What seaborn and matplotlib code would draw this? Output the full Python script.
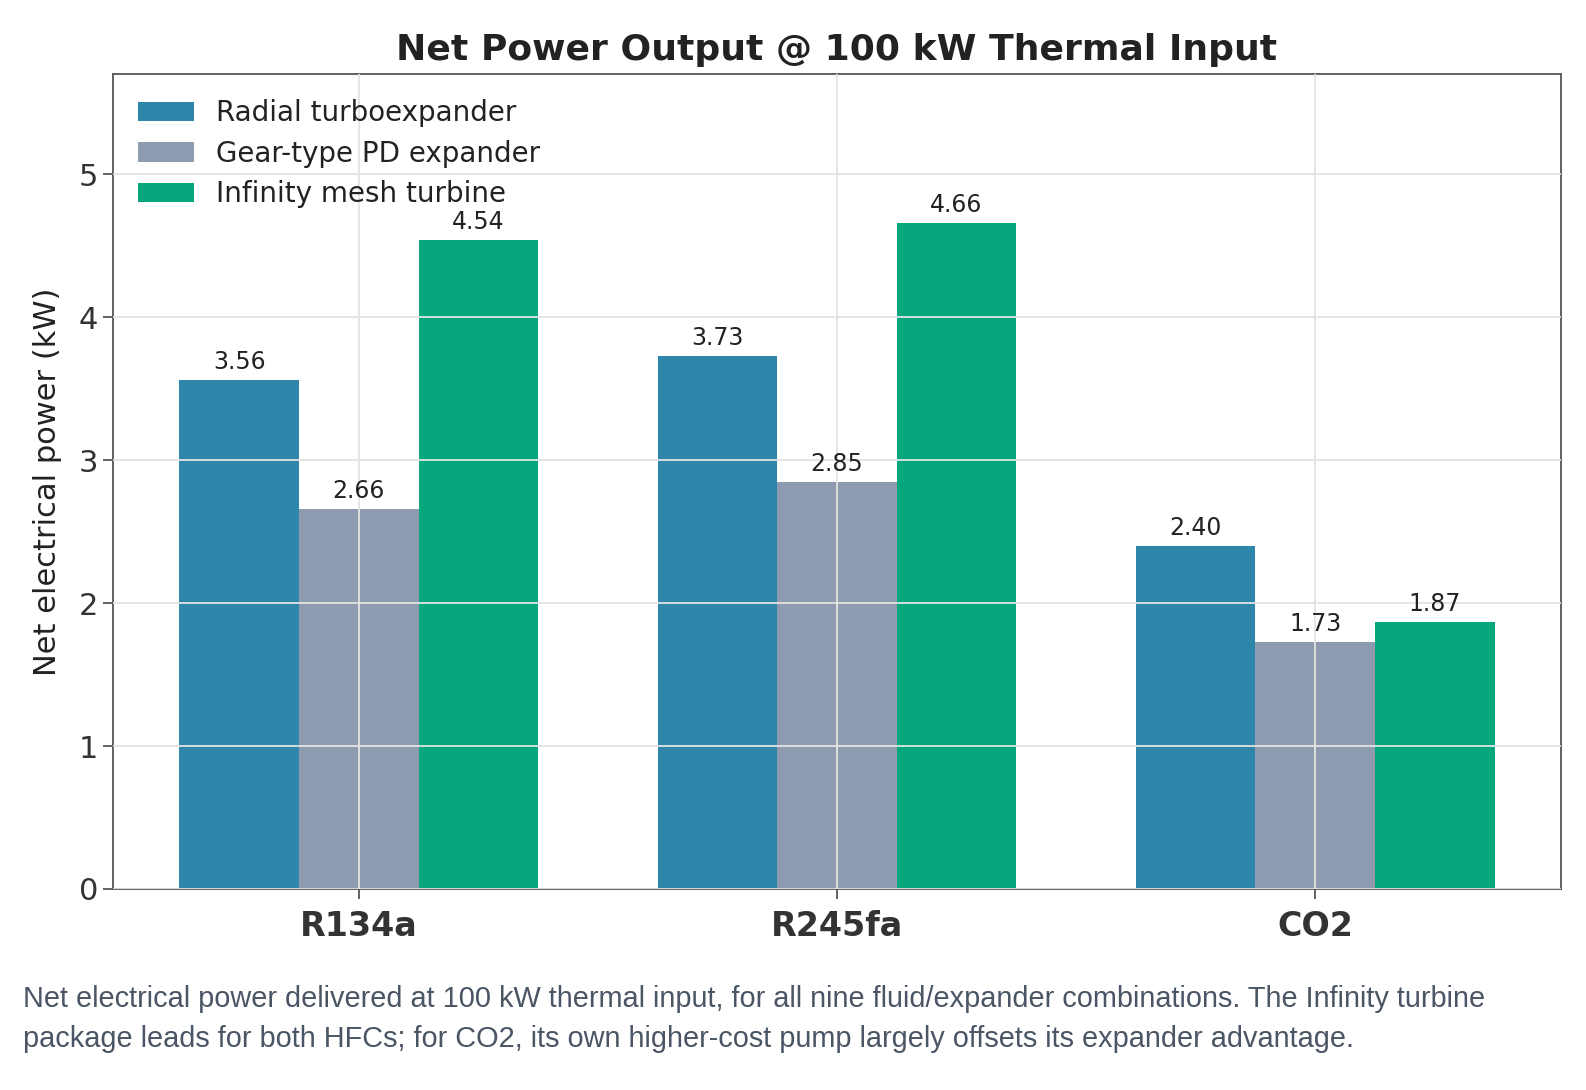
import pandas as pd
import matplotlib
matplotlib.use("Agg")
import matplotlib.pyplot as plt
import seaborn as sns

fluids = ["R134a", "R245fa", "CO2"]
expanders = ["Radial turboexpander", "Gear-type PD expander", "Infinity mesh turbine"]
radial = [3.56, 3.73, 2.40]
gear = [2.66, 2.85, 1.73]
infinity = [4.54, 4.66, 1.87]
colors = ["#2E86AB", "#8E9AAF", "#06A77D"]

caption = ("Net electrical power delivered at 100 kW thermal input, for all nine fluid/expander combinations. The Infinity turbine\n"
           "package leads for both HFCs; for CO2, its own higher-cost pump largely offsets its expander advantage.")

rows = []
for name, vals in zip(expanders, [radial, gear, infinity]):
    for f, v in zip(fluids, vals):
        rows.append({"fluid": f, "expander": name, "power": v})
df = pd.DataFrame(rows)

sns.set_style("white")
plt.rcParams["font.family"] = ["DejaVu Sans"]

fig = plt.figure(figsize=(15.86, 10.9), dpi=100)
ax = fig.add_axes([113 / 1586, 1 - 889 / 1090, (1561 - 113) / 1586, (889 - 74) / 1090])

sns.barplot(data=df, x="fluid", y="power", hue="expander", palette=colors,
            width=0.75, saturation=1, ax=ax, errorbar=None, linewidth=0)

for c in ax.containers:
    ax.bar_label(c, fmt="%.2f", padding=4, fontsize=17, color="#222222")

ax.set_xlim(-0.514, 2.514)
ax.set_ylim(0, 5.7)
ax.set_xlabel("")
ax.set_ylabel("Net electrical power (kW)", fontsize=22, color="#222222", labelpad=12)
ax.set_title("Net Power Output @ 100 kW Thermal Input", fontsize=26, fontweight="bold",
             color="#222222", pad=10)
ax.grid(True, color="#e3e3e3", linewidth=1.3)
ax.set_axisbelow(False)
for s in ax.spines.values():
    s.set_color("#555555")
    s.set_linewidth(1.3)
ax.tick_params(axis="both", bottom=True, left=True, length=7, width=1.3,
               color="#555555", labelcolor="#333333")
ax.tick_params(axis="y", labelsize=22)
ax.tick_params(axis="x", labelsize=24, pad=8)
for t in ax.get_xticklabels():
    t.set_fontweight("bold")

leg = ax.legend(loc="upper left", frameon=False, fontsize=20, handlelength=2.0,
                handleheight=0.7, labelspacing=0.45, borderaxespad=0.5,
                handletextpad=0.8)
for t in leg.get_texts():
    t.set_color("#222222")

fig.text(23 / 1586, 1 - 1019 / 1090, caption, fontsize=20.8, color="#4a5565",
         family=["Liberation Sans", "DejaVu Sans"], linespacing=1.55, va="center")

fig.savefig("out.png", dpi=100)
